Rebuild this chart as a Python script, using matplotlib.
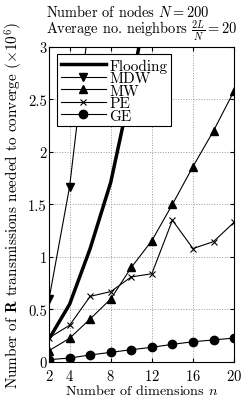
import matplotlib
matplotlib.use("Agg")
import matplotlib.pyplot as plt

plt.rcParams['font.family'] = 'serif'
plt.rcParams['font.serif'] = ['cmr10']
plt.rcParams['mathtext.fontset'] = 'cm'
plt.rcParams['axes.formatter.use_mathtext'] = True
plt.rcParams['axes.unicode_minus'] = False

n_all = [2, 4, 6, 8, 10, 12, 14, 16, 18, 20]
flood_n = [2, 4, 6, 8, 10, 12]
flooding = [0.22, 0.55, 1.08, 1.71, 2.62, 3.64]
mdw_n = [2, 4, 6]
mdw = [0.60, 1.67, 3.33]
mw = [0.108, 0.226, 0.41, 0.60, 0.90, 1.155, 1.50, 1.86, 2.20, 2.58]
pe = [0.23, 0.35, 0.625, 0.67, 0.81, 0.84, 1.35, 1.08, 1.146, 1.33]
ge = [0.022, 0.038, 0.067, 0.092, 0.117, 0.14, 0.168, 0.193, 0.21, 0.228]
xticks = [2, 4, 8, 12, 16, 20]
yticks = [0, 0.5, 1, 1.5, 2, 2.5, 3]

fig = plt.figure(figsize=(2.49, 4.02), dpi=100)
ax = fig.add_axes([0.197, 0.097, 0.743, 0.784])
ax.plot(flood_n, flooding, '-', color='black', lw=2.5, label='Flooding')
ax.plot(mdw_n, mdw, '-v', color='black', lw=0.8, ms=6, label='MDW')
ax.plot(n_all, mw, '-^', color='black', lw=0.8, ms=6, label='MW')
ax.plot(n_all, pe, '-x', color='black', lw=0.8, ms=4, mew=0.8, label='PE')
ax.plot(n_all, ge, '-o', color='black', lw=0.8, ms=6, label='GE')

ax.set_xlim(2, 20)
ax.set_ylim(0, 3)
ax.set_xticks(xticks)
ax.set_yticks(yticks)
ax.set_yticklabels(['0', '0.5', '1', '1.5', '2', '2.5', '3'])
ax.tick_params(direction='in', top=True, right=True, labelsize=10.5, length=3)
ax.tick_params(axis='x', pad=4)
ax.tick_params(axis='y', pad=1.5)
ax.grid(True, linestyle=':', color='#999999', lw=0.7)
for s in ax.spines.values():
    s.set_linewidth(0.8)
ax.set_xlabel('Number of dimensions $n$', fontsize=10.2, labelpad=0)
ax.set_ylabel(r'Number of $\mathbf{R}$ transmissions needed to converge ($\times 10^6$)', fontsize=11, labelpad=2)
fig.text(0.5685, 1 - 4 / 402, 'Number of nodes $N=200$\nAverage no. neighbors $\\frac{2L}{N}=20$',
         fontsize=10.4, ha='center', va='top', linespacing=0.92, multialignment='left')
leg = ax.legend(loc='upper left', fontsize=11, numpoints=1, handlelength=3.0, fancybox=False,
                edgecolor='black', framealpha=1, borderpad=0.25, labelspacing=-0.08,
                handletextpad=0.2, borderaxespad=0.5)
leg.get_frame().set_linewidth(0.8)
fig.savefig('out.png', dpi=100)
